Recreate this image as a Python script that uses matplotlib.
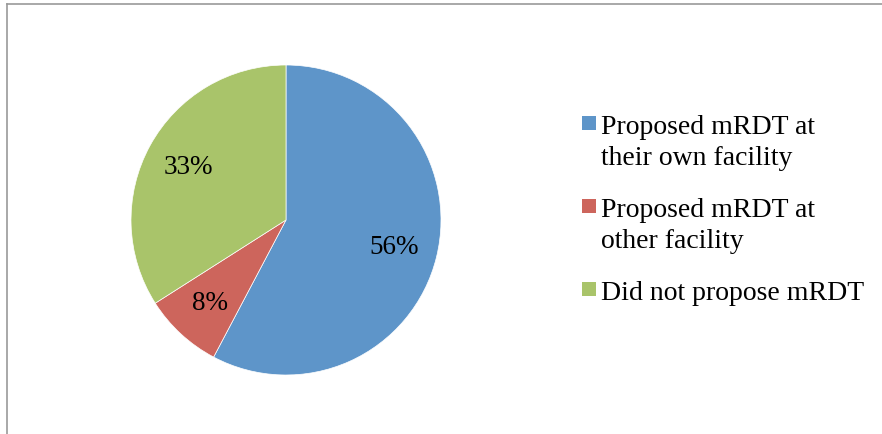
import matplotlib
matplotlib.use("Agg")
import matplotlib.pyplot as plt
from matplotlib.lines import Line2D
from matplotlib.patches import Rectangle

# Survey responses: where the mRDT was proposed
categories = ["Proposed mRDT at\ntheir own facility",
              "Proposed mRDT at\nother facility",
              "Did not propose mRDT"]
percent = [56, 8, 33]
colors = ["#5E95C9", "#CD655C", "#A9C46A"]

plt.rcParams['font.family'] = ['Liberation Serif', 'DejaVu Serif']

W, H = 882, 435
fig = plt.figure(figsize=(W / 100, H / 100), dpi=100)

# pie centred at (286, 221) px, radius 155 px
cx, cy, r = 286, 221, 155
pad = 1.02
ax = fig.add_axes([(cx - r * pad) / W, (H - cy - r * pad) / H,
                   2 * r * pad / W, 2 * r * pad / H])

wedges, texts = ax.pie(percent, colors=colors, startangle=90, counterclock=False,
                       labels=[f"{p}%" for p in percent], labeldistance=0.72,
                       wedgeprops=dict(edgecolor="white", linewidth=0.5),
                       textprops=dict(fontsize=19.5, color="black"))
for t in texts:
    t.set_ha("center")
    t.set_va("center")
ax.set_xlim(-pad, pad)
ax.set_ylim(-pad, pad)
ax.set_aspect("equal")
ax.axis("off")

# legend on the right: square key level with the first line of each label
def px(x, y):
    return x / W, 1 - y / H

base = 134
for label, col in zip(categories, colors):
    lines = label.split("\n")
    x0, y0 = px(582, base - 17)
    fig.add_artist(Rectangle((x0, y0 - 14 / H), 14 / W, 14 / H,
                             transform=fig.transFigure, facecolor=col, edgecolor="none"))
    for i, line in enumerate(lines):
        fig.text(*px(601, base + 31 * i), line, fontsize=20, va="baseline", ha="left")
    base += 31 * (len(lines) - 1) + 52

# chart frame (top and left edges only)
fig.add_artist(Line2D([6.5 / W, 1], [1 - 4.5 / H, 1 - 4.5 / H], transform=fig.transFigure,
                      color="#999999", linewidth=1.2))
fig.add_artist(Line2D([6.5 / W, 6.5 / W], [0, 1 - 4.5 / H], transform=fig.transFigure,
                      color="#999999", linewidth=1.2))

fig.savefig("out.png", dpi=100)
